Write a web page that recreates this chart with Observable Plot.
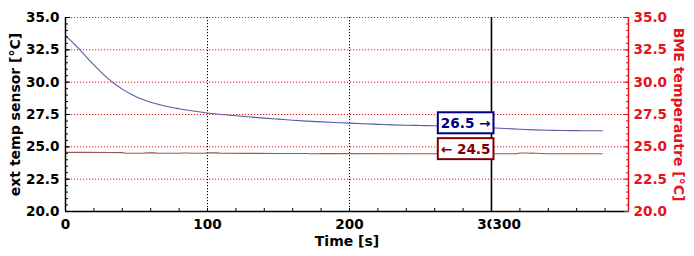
<!DOCTYPE html>
<html>
<head>
<meta charset="utf-8">
<script src="https://cdn.jsdelivr.net/npm/d3@7"></script>
<script src="https://cdn.jsdelivr.net/npm/@observablehq/plot@0.6"></script>
<style>
  html, body { margin: 0; padding: 0; background: #fff; }
  svg { display: block; }
  svg text { font-weight: bold; font-family: "DejaVu Sans", sans-serif; }
</style>
</head>
<body>
<script>
// ---- data ----
const extTimes = [0,5,10,15,20,25,30,35,40,45,50,55,60,70,80,90,100,110,120,130,140,150,160,170,180,190,200,210,220,230,240,250,260,270,280,290,300,310,320,330,340,350,360,370,378];
const extTemp  = [33.6,33.07,32.52,31.92,31.33,30.78,30.28,29.84,29.46,29.14,28.86,28.64,28.45,28.16,27.95,27.77,27.62,27.5,27.4,27.31,27.22,27.14,27.06,26.99,26.93,26.88,26.83,26.78,26.74,26.7,26.67,26.65,26.63,26.6,26.56,26.52,26.47,26.42,26.36,26.31,26.28,26.26,26.25,26.24,26.24];
const bmeTimes = [0,15,30,40,42,55,57,63,65,80,82,87,89,98,100,107,109,150,170,172,178,180,240,250,260,300,318,320,324,326,328,331,340,350,378];
const bmeTemp  = [24.57,24.57,24.56,24.55,24.5,24.5,24.53,24.53,24.5,24.5,24.52,24.52,24.5,24.5,24.53,24.53,24.5,24.49,24.48,24.46,24.46,24.48,24.47,24.46,24.47,24.47,24.47,24.52,24.52,24.5,24.51,24.5,24.46,24.47,24.47];
const yTicks = [20, 22.5, 25, 27.5, 30, 32.5, 35];
const yGrid = [22.5, 25, 27.5, 30, 32.5, 35];
const yMinor = d3.range(20, 35.01, 0.5);
const xTicks = [0, 100, 200, 300];
const xGrid = [100, 200, 300];
const xMinor = d3.range(0, 381, 20);
const xDomain = [0, 396.5];
const yDomain = [20, 35];
const cursorTime = 300;
const cursorExt = 26.5;
const cursorBme = 24.5;
const leftTitle = "ext temp sensor [°C]";
const rightTitle = "BME temperautre [°C]";
const xTitle = "Time [s]";

const ext = extTimes.map((t, i) => ({t, v: extTemp[i]}));
const bme = bmeTimes.map((t, i) => ({t, v: bmeTemp[i]}));

const RED = "#e3141c";
const fmt = d => d.toFixed(1);
const extLabel = cursorExt.toFixed(1) + " →";
const bmeLabel = "← " + cursorBme.toFixed(1);
const timeLabel = String(cursorTime);
const FS = 13.6;

const chart = Plot.plot({
  width: 694,
  height: 256,
  marginLeft: 65,
  marginRight: 66,
  marginTop: 17,
  marginBottom: 45,
  style: {fontFamily: "DejaVu Sans", fontSize: "13px", background: "#fff"},
  x: {domain: xDomain},
  y: {domain: yDomain},
  marks: [
    Plot.gridY(yGrid, {stroke: RED, strokeOpacity: 1, strokeDasharray: "1.2,1.8"}),
    Plot.gridX(xGrid, {stroke: "#000", strokeOpacity: 1, strokeDasharray: "1.2,1.8"}),
    Plot.line(ext, {x: "t", y: "v", stroke: "#5b5ba3", strokeWidth: 1.1, curve: "monotone-x"}),
    Plot.line(bme, {x: "t", y: "v", stroke: "#8c5858", strokeWidth: 1.1}),
    Plot.ruleX([cursorTime], {stroke: "#000", strokeWidth: 1.6}),
    // axis lines
    Plot.ruleY([yDomain[0]], {stroke: "#000", strokeWidth: 1.5}),
    Plot.ruleX([xDomain[0]], {stroke: "#000", strokeWidth: 1.5}),
    Plot.ruleX([xDomain[1]], {stroke: RED, strokeWidth: 1.5}),
    // left axis
    Plot.axisY(yTicks, {anchor: "left", tickSize: 0, tickPadding: 6, tickFormat: fmt, label: null, fill: "#000", fontSize: FS}),
    Plot.axisY(yMinor, {anchor: "left", tickSize: -3, text: null, label: null, stroke: "#000"}),
    Plot.axisY(yTicks, {anchor: "left", tickSize: -5, text: null, label: null, stroke: "#000"}),
    // right axis
    Plot.axisY(yTicks, {anchor: "right", tickSize: 0, tickPadding: 5, tickFormat: fmt, label: null, fill: RED, fontSize: FS}),
    Plot.axisY(yMinor, {anchor: "right", tickSize: -3, text: null, label: null, stroke: RED}),
    Plot.axisY(yTicks, {anchor: "right", tickSize: -5, text: null, label: null, stroke: RED}),
    // bottom axis
    Plot.axisX(xTicks, {anchor: "bottom", tickSize: 0, tickPadding: 8, label: null, fill: "#000", fontSize: FS}),
    Plot.axisX(xMinor, {anchor: "bottom", tickSize: -3, text: null, label: null, stroke: "#000"}),
    // titles
    Plot.text([leftTitle], {frameAnchor: "left", textAnchor: "middle", rotate: -90, dx: -50, fill: "#000", fontSize: 14}),
    Plot.text([rightTitle], {frameAnchor: "right", textAnchor: "middle", rotate: 90, dx: 50, fill: RED, fontSize: 14}),
    Plot.text([xTitle], {frameAnchor: "bottom", dy: 34.5, fill: "#000", fontSize: 14}),
    // cursor labels
    Plot.text([cursorTime], {x: d => d, frameAnchor: "bottom", lineAnchor: "top", dy: 8, dx: 1, textAnchor: "start", text: () => timeLabel, fill: "#000", fontSize: FS}),
    Plot.text([cursorExt], {x: () => cursorTime, y: d => d, text: () => extLabel, textAnchor: "end", dx: -1, dy: -4, fill: "#000080", fontSize: FS}),
    Plot.text([cursorBme], {x: () => cursorTime, y: d => d, text: () => bmeLabel, textAnchor: "end", dx: -1, dy: -4, fill: "#800000", fontSize: FS})
  ]
});
document.body.appendChild(chart);

const svgNS = "http://www.w3.org/2000/svg";
function boxify(content, stroke, padX, padY, sw) {
  const texts = Array.from(chart.querySelectorAll("text")).filter(t => t.textContent === content);
  const t = texts[texts.length - 1];
  if (!t) return;
  const b = t.getBBox();
  const r = document.createElementNS(svgNS, "rect");
  r.setAttribute("x", b.x - padX);
  r.setAttribute("y", b.y - padY);
  r.setAttribute("width", b.width + 2 * padX);
  r.setAttribute("height", b.height + 2 * padY);
  r.setAttribute("fill", "#fff");
  r.setAttribute("stroke", stroke);
  r.setAttribute("stroke-width", sw);
  const tr = t.getAttribute("transform");
  if (tr) r.setAttribute("transform", tr);
  t.parentNode.insertBefore(r, t);
}
boxify(timeLabel, "none", 1, 0, 0);
boxify(extLabel, "#000080", 3, 2.5, 2);
boxify(bmeLabel, "#800000", 3, 2.5, 2);
</script>
</body>
</html>
